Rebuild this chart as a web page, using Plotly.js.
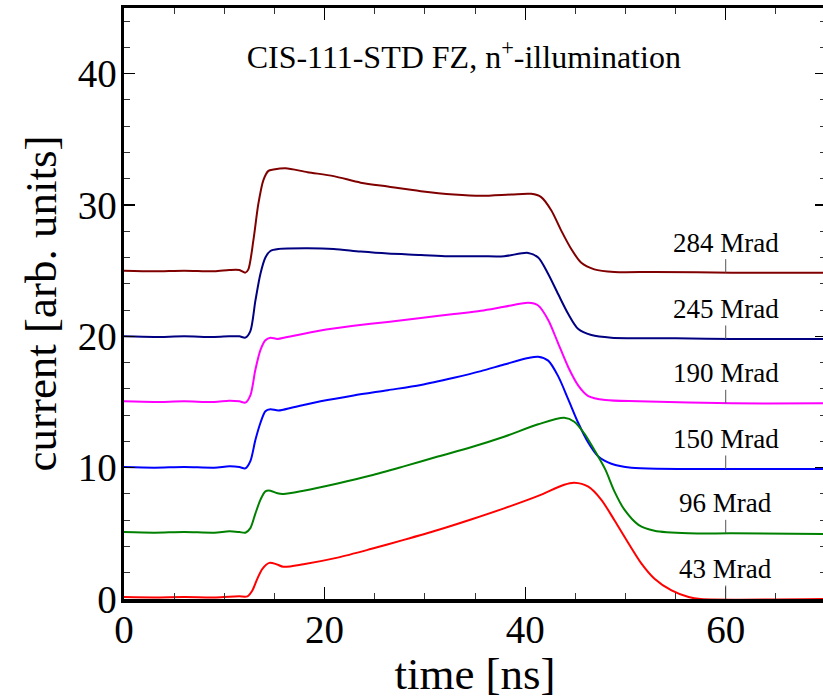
<!DOCTYPE html>
<html>
<head>
<meta charset="utf-8">
<script src="https://cdn.plot.ly/plotly-3.0.1.min.js"></script>
<style>
html,body{margin:0;padding:0;overflow:hidden;background:#fff;}
#chart{width:828px;height:699px;}
</style>
</head>
<body>
<div id="chart"></div>
<script>
// ---- data ----
const doseLabels = ['284 Mrad', '245 Mrad', '190 Mrad', '150 Mrad', '96 Mrad', '43 Mrad'];
const colors = ['#800000', '#000080', '#ff00ff', '#0000ff', '#008000', '#ff0000'];

const t284 = [0, 3, 6, 9, 10.5, 11.5, 12.1, 12.4, 12.9, 13.4, 13.9, 14.4, 14.9, 16.1, 18.3, 20.9, 23.6, 26.3, 29.6, 32.9, 35.6, 38.6, 40.6, 41.6, 42.6, 43.6, 44.6, 45.6, 46.9, 48.9, 52.9, 60.6, 70];
const i284 = [25.0, 24.95, 25.0, 24.95, 25.05, 25.05, 24.85, 25.1, 27.3, 30.1, 31.9, 32.6, 32.7, 32.8, 32.5, 32.2, 31.7, 31.4, 31.05, 30.8, 30.7, 30.8, 30.85, 30.6, 29.6, 28.05, 26.65, 25.6, 25.1, 24.9, 24.9, 24.85, 24.85];

const t245 = [0, 3, 6, 9, 10.5, 11.5, 12.1, 12.6, 13.1, 13.6, 14.1, 14.6, 15.4, 18.3, 20.9, 23.6, 26.3, 29.6, 32.3, 35.6, 37.9, 40.3, 41.3, 42.3, 43.3, 44.3, 45.3, 46.6, 48.6, 55, 60.6, 70];
const i245 = [20.0, 19.95, 20.0, 19.95, 20.0, 20.0, 19.9, 20.4, 22.7, 24.75, 26.0, 26.5, 26.65, 26.7, 26.65, 26.45, 26.3, 26.2, 26.1, 26.1, 26.1, 26.35, 26.0, 24.75, 23.2, 21.7, 20.55, 20.1, 19.9, 19.85, 19.8, 19.8];

const t190 = [0, 3, 6, 9, 10.5, 11.5, 12.1, 12.6, 13.1, 13.6, 14.1, 14.6, 15.3, 16.3, 19.6, 22.9, 26.3, 29.6, 32.9, 35.6, 37.9, 40.3, 41.3, 42.3, 43.3, 44.3, 45.3, 46.3, 48.0, 51.3, 60.6, 70];
const i190 = [15.05, 15.0, 15.05, 15.0, 15.1, 15.05, 14.95, 15.5, 17.45, 18.95, 19.7, 19.9, 19.8, 19.95, 20.45, 20.8, 21.1, 21.4, 21.7, 21.95, 22.25, 22.55, 22.35, 21.25, 19.45, 17.65, 16.25, 15.45, 15.15, 15.05, 14.9, 14.9];

const t150 = [0, 3, 6, 9, 10.5, 11.5, 12.1, 12.6, 13.1, 13.6, 14.1, 14.6, 15.4, 16.9, 19.6, 22.9, 26.3, 29.6, 32.9, 35.6, 37.9, 40.3, 41.3, 42.3, 43.3, 44.3, 45.3, 46.3, 47.3, 48.6, 50.6, 60.6, 70];
const i150 = [10.05, 10.0, 10.05, 10.0, 10.1, 10.05, 9.95, 10.5, 12.1, 13.4, 14.3, 14.45, 14.35, 14.6, 15.05, 15.5, 15.9, 16.3, 16.85, 17.35, 17.85, 18.35, 18.45, 18.15, 16.95, 15.2, 13.4, 11.9, 10.85, 10.3, 10.0, 9.9, 9.9];

const t96 = [0, 3, 6, 9, 10.5, 11.5, 12.1, 12.6, 13.1, 13.6, 14.1, 14.6, 15.3, 15.9, 17.9, 21.3, 24.6, 27.9, 31.3, 34.6, 37.9, 41.3, 43.9, 44.9, 45.9, 46.9, 48.0, 48.9, 49.9, 51.3, 52.9, 56.3, 60.6, 70];
const i96 = [5.1, 5.05, 5.1, 5.05, 5.15, 5.1, 5.05, 5.4, 6.5, 7.55, 8.2, 8.25, 8.05, 8.0, 8.25, 8.8, 9.4, 10.1, 10.85, 11.55, 12.35, 13.3, 13.8, 13.5, 12.6, 11.35, 9.85, 8.2, 6.8, 5.65, 5.2, 5.0, 5.0, 4.95];

const t43 = [0, 3, 6, 9, 10.5, 11.5, 12.3, 12.8, 13.3, 13.8, 14.5, 15.2, 15.9, 17.9, 21.3, 24.6, 27.9, 31.3, 34.6, 37.9, 41.3, 43.9, 44.9, 46.3, 47.6, 48.9, 50.3, 51.6, 52.9, 54.6, 56.3, 57.5, 70];
const i43 = [0.15, 0.12, 0.15, 0.12, 0.18, 0.2, 0.2, 0.65, 1.55, 2.3, 2.75, 2.65, 2.45, 2.65, 3.15, 3.8, 4.5, 5.25, 6.05, 6.9, 7.85, 8.7, 8.85, 8.55, 7.55, 6.0, 4.25, 2.7, 1.55, 0.65, 0.15, 0.0, 0.0];

const labelTime = 60;
const labelCurrent = [24.85, 19.8, 14.9, 9.9, 5.0, 0.0];

const xTickVals = [0, 20, 40, 60];
const yTickVals = [0, 10, 20, 30, 40];

// ---- build traces ----
const times = [t284, t245, t190, t150, t96, t43];
const currents = [i284, i245, i190, i150, i96, i43];
const serif = 'Liberation Serif, Times New Roman, serif';

const traces = times.map((t, k) => ({
  x: t, y: currents[k], type: 'scatter', mode: 'lines', name: doseLabels[k],
  line: {color: colors[k], width: 2, shape: 'spline', smoothing: 0.8},
  hoverinfo: 'skip'
}));

const annotations = doseLabels.map((txt, k) => ({
  x: labelTime, y: labelCurrent[k], xref: 'x', yref: 'y',
  text: txt, showarrow: true, arrowhead: 0, arrowwidth: 1, arrowcolor: '#555',
  ax: 0, ay: -30, font: {family: serif, size: 27, color: '#000'}
}));

const layout = {
  width: 828, height: 699,
  margin: {l: 124, r: 2, t: 8, b: 100},
  paper_bgcolor: '#fff', plot_bgcolor: '#fff',
  showlegend: false,
  title: {
    text: 'CIS-111-STD FZ, n<sup>+</sup>-illumination',
    xref: 'paper', yref: 'paper', x: 0.484, y: 0.917,
    xanchor: 'center', yanchor: 'middle',
    font: {family: serif, size: 32, color: '#000'}
  },
  xaxis: {
    range: [0, 70], tickvals: xTickVals, ticks: 'inside', ticklen: 12, tickwidth: 1.2, tickcolor: '#000',
    showline: true, linewidth: 3.5, linecolor: '#000', mirror: 'allticks',
    showgrid: false, zeroline: false, ticklabelstandoff: -6,
    minor: {dtick: 5, tick0: 0, ticks: 'inside', ticklen: 6, tickwidth: 1, tickcolor: '#333', showgrid: false},
    tickfont: {family: serif, size: 39, color: '#000'},
    title: {text: 'time [ns]', font: {family: serif, size: 45, color: '#000'}, standoff: 6}
  },
  yaxis: {
    range: [0, 45], tickvals: yTickVals, ticks: 'inside', ticklen: 11, tickwidth: 1.2, tickcolor: '#000',
    showline: true, linewidth: 3.5, linecolor: '#000', mirror: 'allticks',
    showgrid: false, zeroline: false, ticklabelstandoff: -4,
    minor: {dtick: 2, tick0: 0, ticks: 'inside', ticklen: 6, tickwidth: 1, tickcolor: '#333', showgrid: false},
    tickfont: {family: serif, size: 39, color: '#000'},
    title: {text: 'current [arb. units]', font: {family: serif, size: 45, color: '#000'}, standoff: 8}
  },
  annotations: annotations
};

Plotly.newPlot('chart', traces, layout, {displayModeBar: false, staticPlot: true});
</script>
</body>
</html>
